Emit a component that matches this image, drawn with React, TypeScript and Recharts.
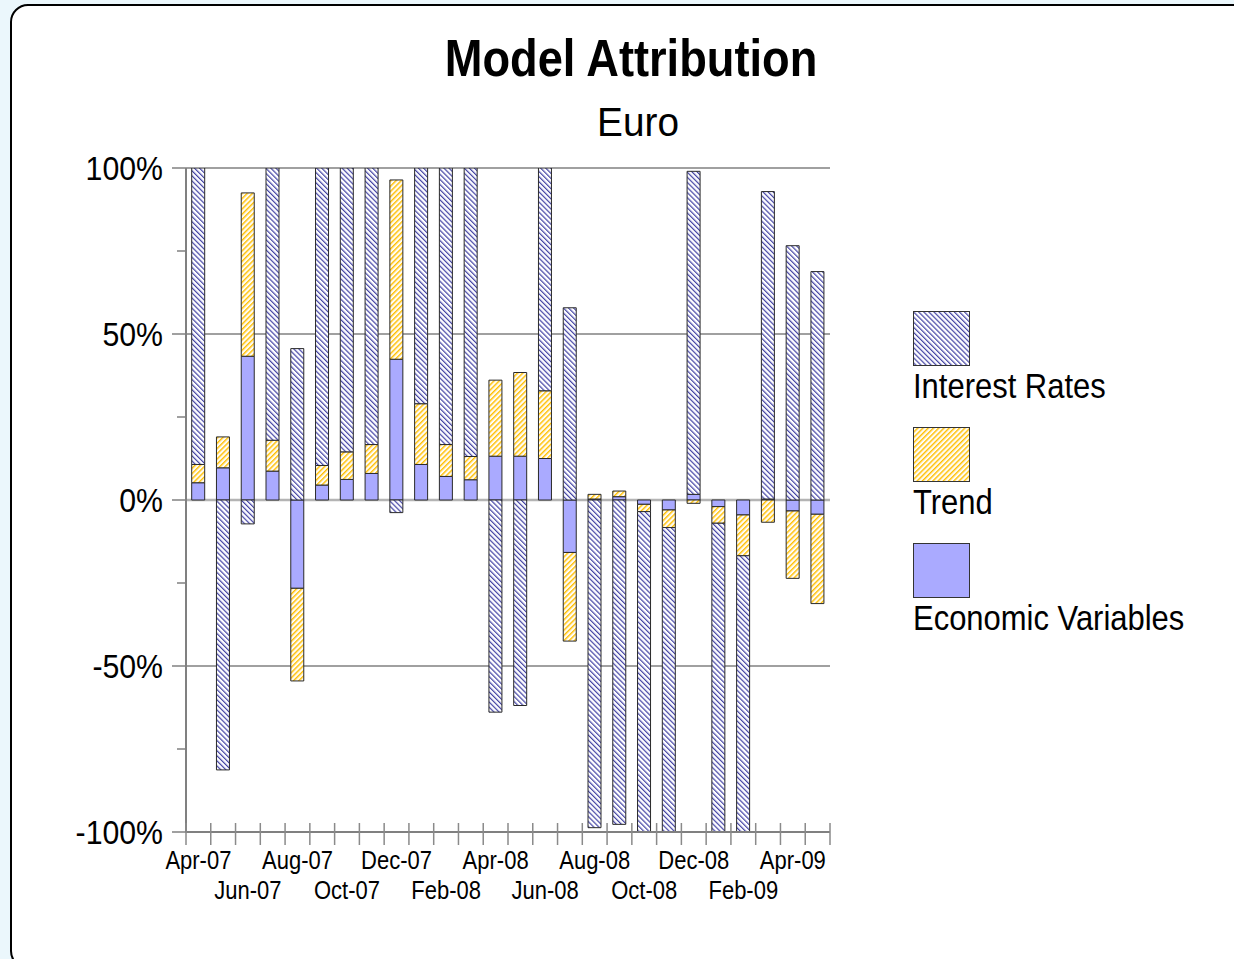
import React from 'react';
import { BarChart, Bar, XAxis, YAxis, CartesianGrid } from 'recharts';

// monthly attribution, in %
const months = [
  'Apr-07', 'May-07', 'Jun-07', 'Jul-07', 'Aug-07', 'Sep-07', 'Oct-07', 'Nov-07', 'Dec-07',
  'Jan-08', 'Feb-08', 'Mar-08', 'Apr-08', 'May-08', 'Jun-08', 'Jul-08', 'Aug-08', 'Sep-08',
  'Oct-08', 'Nov-08', 'Dec-08', 'Jan-09', 'Feb-09', 'Mar-09', 'Apr-09', 'May-09',
];
const economicVariables = [
  5.2, 9.7, 43.3, 8.7, -26.6, 4.5, 6.2, 8.0, 42.4, 10.7, 7.1, 6.1, 13.2, 13.2, 12.5, -15.8,
  0.3, 1.0, -1.3, -3.0, 1.7, -2.0, -4.5, 0.3, -3.3, -4.3,
];
const trend = [
  5.5, 9.3, 49.2, 9.3, -27.9, 5.9, 8.3, 8.7, 54.0, 18.3, 9.6, 7.0, 22.9, 25.2, 20.4, -26.7,
  1.4, 1.7, -2.2, -5.3, -1.0, -5.0, -12.3, -6.7, -20.3, -26.9,
];
const interestRates = [
  110, -81.3, -7.2, 95, 45.6, 105, 100, 95, -3.8, 90, 100, 115, -63.9, -61.9, 80, 57.9,
  -98.7, -97.7, -104, -100, 97.3, -105, -95, 92.6, 76.6, 68.8,
];
const yTicks = [-100, -75, -50, -25, 0, 25, 50, 75, 100];

const data = months.map((month, i) => ({
  month,
  econ: economicVariables[i],
  trend: trend[i],
  rates: interestRates[i],
}));

const W = 1234;
const H = 959;
const PLOT_LEFT = 186;
const PLOT_RIGHT = 830;
const FONT = "'Liberation Sans', Arial, sans-serif";

const XTick = (props: any) => {
  const { x, y, index } = props;
  const band = (PLOT_RIGHT - PLOT_LEFT) / months.length;
  const row = index % 4 === 0 ? 1 : index % 4 === 2 ? 2 : 0;
  return (
    <g>
      <line x1={x - band / 2} x2={x - band / 2} y1={y - 9} y2={y + 13} stroke="#8a8a8a" strokeWidth={1.5} />
      {index === months.length - 1 && (
        <line x1={x + band / 2} x2={x + band / 2} y1={y - 9} y2={y + 13} stroke="#8a8a8a" strokeWidth={1.5} />
      )}
      {row > 0 && (
        <text
          transform={`translate(${x},${y + (row === 1 ? 37 : 67)}) scale(0.88,1)`}
          textAnchor="middle"
          fontFamily={FONT}
          fontSize={25}
          fill="#000"
        >
          {props.payload.value}
        </text>
      )}
    </g>
  );
};

const YTick = (props: any) => {
  const { x, y, payload } = props;
  const v = payload.value;
  const major = v % 50 === 0;
  return (
    <g>
      <line x1={x - (major ? 14 : 9)} x2={x} y1={y} y2={y} stroke="#808080" strokeWidth={1.5} />
      {major && (
        <text
          transform={`translate(${x - 23},${y + 12}) scale(0.89,1)`}
          textAnchor="end"
          fontFamily={FONT}
          fontSize={34}
          fill="#000"
        >
          {`${v}%`}
        </text>
      )}
    </g>
  );
};

const legendItems = [
  { label: 'Interest Rates', fill: 'url(#hatchRates)', y: 311 },
  { label: 'Trend', fill: 'url(#hatchTrend)', y: 427 },
  { label: 'Economic Variables', fill: '#aaaaff', y: 543 },
];

export default function App() {
  return (
    <div style={{ position: 'absolute', left: 0, top: 0, width: W, height: H, background: '#ebf7fc', overflow: 'hidden' }}>
      <svg width={0} height={0} style={{ position: 'absolute' }}>
        <defs>
          <pattern id="hatchRates" patternUnits="userSpaceOnUse" width={3.6} height={10} patternTransform="rotate(-45)">
            <rect x={0} y={0} width={3.6} height={10} fill="#ffffff" />
            <rect x={0} y={0} width={0.8} height={10} fill="#20208e" />
            <rect x={0.8} y={0} width={0.7} height={10} fill="#9c9cd8" />
          </pattern>
          <pattern id="hatchTrend" patternUnits="userSpaceOnUse" width={3.7} height={10} patternTransform="rotate(45)">
            <rect x={0} y={0} width={3.7} height={10} fill="#ffffff" />
            <rect x={0} y={0} width={1.5} height={10} fill="#ffbf00" />
            <rect x={1.5} y={0} width={0.5} height={10} fill="#ffe08a" />
          </pattern>
        </defs>
      </svg>
      <div
        style={{
          position: 'absolute',
          left: 10,
          top: 4,
          width: 1250,
          height: 961,
          background: '#fff',
          border: '2px solid #000',
          borderRadius: 18,
        }}
      />
      <div style={{ position: 'absolute', left: 0, top: 0 }}>
        <BarChart
          width={W}
          height={H}
          data={data}
          stackOffset="sign"
          barCategoryGap="23%"
          margin={{ top: 168, right: 404, bottom: 67, left: 86 }}
        >
          <CartesianGrid vertical={false} horizontalValues={[100, 50, -50]} stroke="#808080" strokeWidth={1.5} />
          <CartesianGrid vertical={false} horizontalValues={[0]} stroke="#b4b4b4" strokeWidth={2.5} />
          <XAxis
            dataKey="month"
            height={60}
            interval={0}
            tickSize={0}
            tickMargin={0}
            tickLine={false}
            axisLine={{ stroke: '#808080', strokeWidth: 2 }}
            tick={(p: any) => <XTick {...p} />}
          />
          <YAxis
            width={100}
            domain={[-100, 100]}
            ticks={yTicks}
            allowDataOverflow
            interval={0}
            tickSize={0}
            tickMargin={0}
            tickLine={false}
            axisLine={{ stroke: '#808080', strokeWidth: 2 }}
            tick={(p: any) => <YTick {...p} />}
          />
          <YAxis
            yAxisId="right"
            orientation="right"
            width={0}
            domain={[-100, 100]}
            tick={false}
            tickLine={false}
            axisLine={{ stroke: '#1a1a1a', strokeWidth: 2 }}
          />
          <Bar dataKey="econ" stackId="a" fill="#aaaaff" stroke="#2a2a2a" strokeWidth={1} isAnimationActive={false} />
          <Bar dataKey="trend" stackId="a" fill="url(#hatchTrend)" stroke="#2a2a2a" strokeWidth={1} isAnimationActive={false} />
          <Bar dataKey="rates" stackId="a" fill="url(#hatchRates)" stroke="#2a2a2a" strokeWidth={1} isAnimationActive={false} />
        </BarChart>
      </div>
      <svg width={W} height={H} style={{ position: 'absolute', left: 0, top: 0, pointerEvents: 'none' }}>
        <text
          transform="translate(631,76) scale(0.87,1)"
          textAnchor="middle"
          fontFamily={FONT}
          fontWeight="bold"
          fontSize={52}
          fill="#000"
        >
          Model Attribution
        </text>
        <text transform="translate(638,136) scale(0.97,1)" textAnchor="middle" fontFamily={FONT} fontSize={40} fill="#000">
          Euro
        </text>
        {legendItems.map((item) => (
          <g key={item.label}>
            <rect x={913.5} y={item.y + 0.5} width={56} height={54} fill={item.fill} stroke="#333" strokeWidth={1} />
            <text
              transform={`translate(913,${item.y + 87}) scale(0.885,1)`}
              fontFamily={FONT}
              fontSize={35}
              fill="#000"
            >
              {item.label}
            </text>
          </g>
        ))}
      </svg>
    </div>
  );
}
